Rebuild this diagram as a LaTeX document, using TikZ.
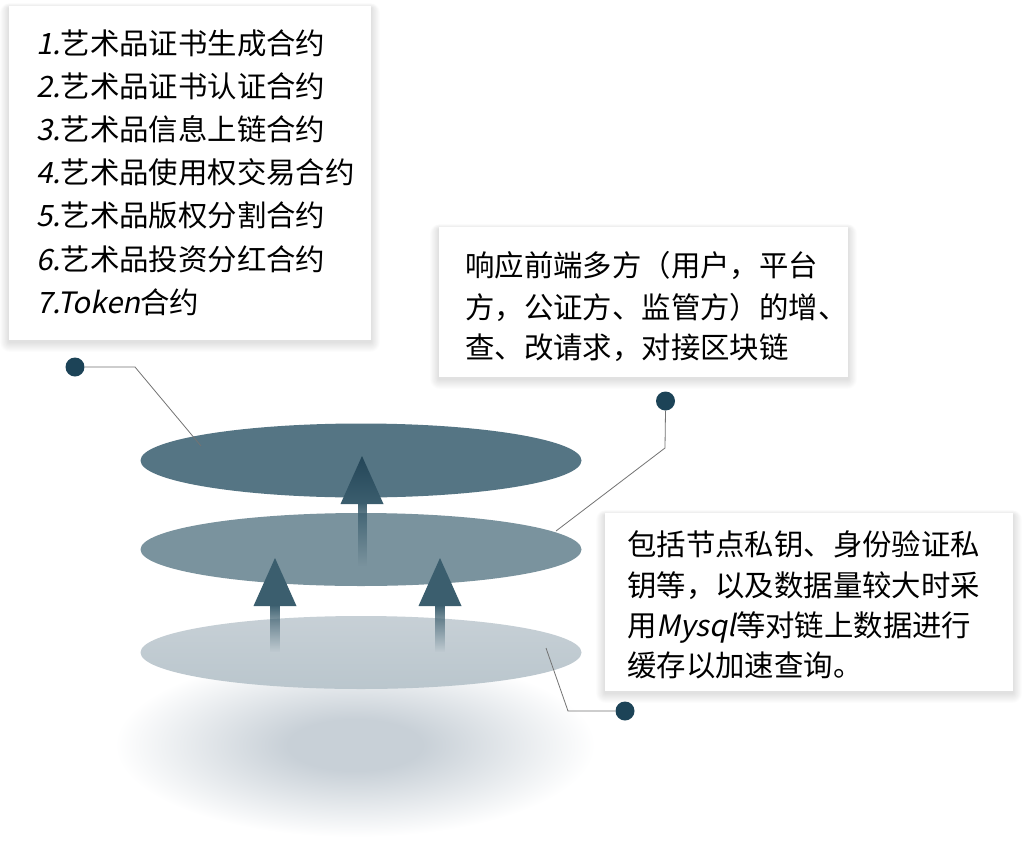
\documentclass[tikz,border=0pt]{standalone}
\usepackage{fontspec}
\setmainfont{Noto Sans CJK SC}[AutoFakeSlant=0.2]
\usetikzlibrary{fadings}
\definecolor{topc}{RGB}{85,117,132}
\definecolor{midc}{RGB}{122,147,158}
\definecolor{botc}{RGB}{199,208,214}
\definecolor{botd}{RGB}{186,198,205}
\definecolor{arrc}{RGB}{59,94,110}
\definecolor{arrtop}{RGB}{36,70,88}
\definecolor{dotc}{RGB}{28,67,87}
\definecolor{linec}{RGB}{115,115,115}
\definecolor{shadc}{RGB}{200,208,215}
\pgfdeclareradialshading{groundsh}{\pgfpoint{0bp}{0bp}}{color(0bp)=(shadc); color(7bp)=(shadc); color(25bp)=(white); color(50bp)=(white)}
\newcommand\myboxshadow[4]{%
  \foreach \i in {1,...,10}{%
    \fill[black,opacity=0.013,rounded corners=\i pt]
      (#1-\i*0.9,#2-\i*0.5+2) rectangle (#3+\i*0.9,#4+\i*1.0+2);}}
\tikzset{
  txt/.style={anchor=base west,inner sep=0pt,font=\fontsize{29.4}{43}\selectfont,text=black},
  infobox/.style={draw=none,fill=white,inner sep=0pt},
  dotnode/.style={circle,fill=dotc,minimum size=19pt,inner sep=0pt},
  leader/.style={draw=linec,line width=0.8pt},
}
\begin{document}
\begin{tikzpicture}[x=1pt,y=-1pt]
\useasboundingbox (0,0) rectangle (1029,860);
\fill[white] (0,0) rectangle (1029,860);

% ground shadow
\shade[shading=groundsh] (355,745) ellipse (240pt and 92pt);

% layers
\shade[top color=botc,bottom color=botd] (361,652.5) ellipse (220.5pt and 36.5pt);
\fill[midc] (361,549.5) ellipse (220.5pt and 36.5pt);
\fill[topc] (361,460.5) ellipse (220.5pt and 37pt);

% arrows
\fill[arrc,path fading=south] (269.5,604) rectangle (279.5,652);
\fill[arrc,path fading=south] (435,604) rectangle (445,652);
\fill[arrc,path fading=south] (357.5,502) rectangle (366.5,566);
\shade[top color=arrc,bottom color=arrc] (275,558) -- (296.5,606) -- (253.5,606) -- cycle;
\shade[top color=arrc,bottom color=arrc] (440,558) -- (461.5,606) -- (418.5,606) -- cycle;
\shade[top color=arrtop,bottom color=arrc] (362,456) -- (383.5,504) -- (340.5,504) -- cycle;

% info boxes
\myboxshadow{9}{6}{371}{340}
\myboxshadow{439}{227}{848}{377}
\myboxshadow{605}{513}{1013}{691}
\node[infobox,minimum width=362pt,minimum height=334pt] (b1) at (190,173) {};
\node[infobox,minimum width=409pt,minimum height=150pt] (b2) at (643.5,302) {};
\node[infobox,minimum width=408pt,minimum height=178pt] (b3) at (809,602) {};

% texts box 1
\node[txt] (a1) at (36,54.5) {\textit{1.}艺术品证书生成合约};
\node[txt] (a2) at (36,97.5) {\textit{2.}艺术品证书认证合约};
\node[txt] (a3) at (36,140.5) {\textit{3.}艺术品信息上链合约};
\node[txt] (a4) at (36,183.5) {\textit{4.}艺术品使用权交易合约};
\node[txt] (a5) at (36,226.5) {\textit{5.}艺术品版权分割合约};
\node[txt] (a6) at (36,270) {\textit{6.}艺术品投资分红合约};
\node[txt] (a7) at (36,313) {\textit{7.Token}合约};

% texts box 2
\node[txt] (c1) at (465,276) {响应前端多方（用户，平台};
\node[txt] (c2) at (465,318) {方，公证方、监管方）的增、};
\node[txt] (c3) at (465,358) {查、改请求，对接区块链};

% texts box 3
\node[txt] (e1) at (627,555) {包括节点私钥、身份验证私};
\node[txt] (e2) at (627,596) {钥等，以及数据量较大时采};
\node[txt] (e3) at (627,636) {用\textit{Mysql}等对链上数据进行};
\node[txt] (e4) at (627,676) {缓存以加速查询。};

% leaders
\coordinate (k1) at (135,367);
\coordinate (p1) at (201,446);
\coordinate (k2) at (665,448);
\coordinate (p2) at (556,531);
\coordinate (k3) at (568,711);
\coordinate (p3) at (546,648);
\node[dotnode] (d1) at (75,367) {};
\node[dotnode] (d2) at (665.5,401) {};
\node[dotnode] (d3) at (625,711) {};
\draw[leader] (d1.east) -- (k1) -- (p1);
\draw[leader] (d2.south) -- (k2) -- (p2);
\draw[leader] (d3.west) -- (k3) -- (p3);
\end{tikzpicture}
\end{document}
